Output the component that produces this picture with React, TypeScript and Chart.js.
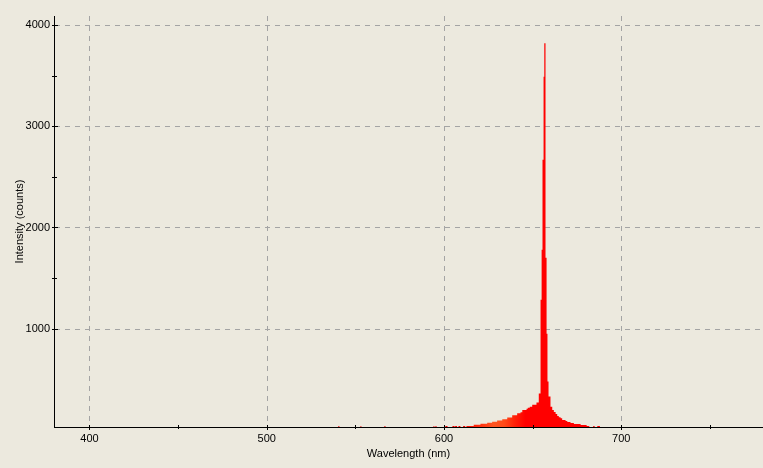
import React, { useEffect, useRef } from 'react';
import { Chart, registerables } from 'chart.js';

Chart.register(...registerables);

// Spectrum (left edge of each step, nm) and intensity (counts)
const wavelengths = [
  380,
  540.4, 541.0,
  552.9, 553.4,
  566.4, 567.0,
  594.1, 594.6,
  595.2, 595.8,
  600.8, 602.0,
  604.8, 606.0,
  606.3, 607.4,
  608.2, 609.3,
  610.8, 612.0,
  612.7, 616.8, 620.6, 624.4, 627.2, 630.0, 632.9, 635.7, 638.5, 641.3,
  643.2, 644.2, 646.6, 647.3, 648.4, 649.8, 652.2, 653.5,
  654.5, 655.1, 655.6, 656.2, 656.6, 657.3, 657.9, 658.4, 659.0,
  660.1, 661.1, 662.0, 663.0, 663.9, 664.8, 665.8, 666.7, 668.6, 669.6, 671.4, 673.3, 677.1, 680.5, 682.0,
  684.2, 685.0,
  686.5, 688.0,
  780,
];
const counts = [
  0,
  40, 0,
  40, 0,
  40, 0,
  40, 0,
  40, 0,
  40, 0,
  40, 0,
  40, 0,
  40, 0,
  40, 0,
  40, 52, 62, 70, 82, 92, 106, 122, 145, 165,
  175, 198, 210, 220, 230, 248, 270, 360,
  1286, 1780, 2670, 3490, 3820, 1700, 950, 478, 330,
  230, 198, 178, 158, 138, 125, 115, 99, 89, 79, 69, 59, 49, 40, 0,
  40, 0,
  40, 0,
  0,
];

const xMajorTicks = [400, 500, 600, 700];
const xMinorTicks = [450, 550, 650, 750];
const yMajorTicks = [1000, 2000, 3000, 4000];
const yMinorTicks = [1500, 2500, 3500];

const X_MIN = 380;
const X_MAX = 780;
const Y_MIN = 29;
const Y_MAX = 4089;

const BG = '#ECE9DE';
const FONT_FAMILY = '"Liberation Sans", Arial, sans-serif';

export default function App() {
  const ref = useRef<HTMLCanvasElement>(null);

  useEffect(() => {
    document.body.style.margin = '0';
    document.body.style.background = BG;
    const canvas = ref.current!;

    const decor = {
      id: 'decor',
      beforeDraw(chart: any) {
        const c = chart.ctx;
        c.save();
        c.fillStyle = BG;
        c.fillRect(0, 0, chart.width, chart.height);
        c.restore();
      },
      beforeDatasetsDraw(chart: any) {
        const c = chart.ctx;
        const { left, right, top, bottom } = chart.chartArea;
        const xs = chart.scales.x;
        const ys = chart.scales.y;
        c.save();
        c.strokeStyle = '#A4A4A4';
        c.lineWidth = 1;
        c.setLineDash([5, 5]);
        for (const v of xMajorTicks) {
          const x = Math.round(xs.getPixelForValue(v)) + 0.5;
          c.beginPath();
          c.moveTo(x, top);
          c.lineTo(x, bottom);
          c.stroke();
        }
        for (const v of yMajorTicks) {
          const y = Math.round(ys.getPixelForValue(v)) + 0.5;
          c.beginPath();
          c.moveTo(left + 1, y);
          c.lineTo(right, y);
          c.stroke();
        }
        c.restore();
      },
      afterDatasetsDraw(chart: any) {
        const c = chart.ctx;
        const { left, right, top, bottom } = chart.chartArea;
        const xs = chart.scales.x;
        const ys = chart.scales.y;
        c.save();
        c.fillStyle = '#000';
        // axis lines
        c.fillRect(left, top, 1, bottom - top + 1);
        c.fillRect(left, bottom, right - left, 1);
        // y ticks
        for (const v of yMajorTicks) {
          const y = Math.round(ys.getPixelForValue(v));
          c.fillRect(left - 2, y, 6, 1);
        }
        for (const v of yMinorTicks) {
          const y = Math.round(ys.getPixelForValue(v));
          c.fillRect(left - 2, y, 5, 1);
        }
        // x ticks
        for (const v of xMajorTicks) {
          const x = Math.round(xs.getPixelForValue(v));
          c.fillRect(x, bottom - 2, 1, 5);
        }
        for (const v of xMinorTicks) {
          const x = Math.round(xs.getPixelForValue(v));
          c.fillRect(x, bottom - 2, 1, 4);
        }
        c.restore();
      },
    };

    const gradientFill = (ctx: any) => {
      const chart = ctx.chart;
      const { chartArea, scales } = chart;
      if (!chartArea || !scales.x) return '#FF0000';
      const x0 = scales.x.getPixelForValue(600);
      const x1 = scales.x.getPixelForValue(660);
      const g = chart.ctx.createLinearGradient(x0, 0, x1, 0);
      g.addColorStop(0, '#F00000');
      g.addColorStop(0.2, '#F80800');
      g.addColorStop(0.333, '#FF3010');
      g.addColorStop(0.467, '#FF5520');
      g.addColorStop(0.567, '#FF4A18');
      g.addColorStop(0.667, '#FF2008');
      g.addColorStop(0.767, '#FF0000');
      g.addColorStop(1, '#FF0000');
      return g;
    };

    const chart = new Chart(canvas, {
      type: 'line',
      data: {
        datasets: [
          {
            data: wavelengths.map((w, i) => ({ x: w, y: counts[i] })),
            stepped: true,
            fill: 'origin',
            backgroundColor: gradientFill,
            borderColor: 'rgba(0,0,0,0)',
            borderWidth: 0,
            pointRadius: 0,
            pointHoverRadius: 0,
            tension: 0,
          },
        ],
      },
      options: {
        animation: false,
        responsive: false,
        devicePixelRatio: 1,
        events: [],
        layout: { padding: { top: 16, left: 0, right: 0, bottom: 0 } },
        plugins: {
          legend: { display: false },
          tooltip: { enabled: false },
        },
        scales: {
          x: {
            type: 'linear',
            min: X_MIN,
            max: X_MAX,
            grid: { display: false, drawTicks: false },
            border: { display: false },
            ticks: {
              color: '#000',
              font: { family: FONT_FAMILY, size: 11 },
              padding: 5,
              autoSkip: false,
              maxRotation: 0,
              callback: (v: any) => (xMajorTicks.includes(Number(v)) ? String(v) : ''),
            },
            afterBuildTicks: (s: any) => {
              s.ticks = [...xMajorTicks, ...xMinorTicks].sort((a, b) => a - b).map((v) => ({ value: v }));
            },
            afterFit: (s: any) => {
              s.height = 41;
            },
            title: {
              display: true,
              text: 'Wavelength (nm)',
              color: '#000',
              font: { family: FONT_FAMILY, size: 11 },
              padding: { top: 0, bottom: 7.5 },
            },
          },
          y: {
            type: 'linear',
            min: Y_MIN,
            max: Y_MAX,
            grid: { display: false, drawTicks: false },
            border: { display: false },
            ticks: {
              color: '#000',
              font: { family: FONT_FAMILY, size: 11 },
              padding: 4,
              callback: (v: any) => (yMajorTicks.includes(Number(v)) ? String(v) : ''),
            },
            afterBuildTicks: (s: any) => {
              s.ticks = [...yMajorTicks, ...yMinorTicks].sort((a, b) => a - b).map((v) => ({ value: v }));
            },
            afterFit: (s: any) => {
              s.width = 54;
            },
            title: {
              display: true,
              text: 'Intensity (counts)',
              color: '#000',
              font: { family: FONT_FAMILY, size: 11 },
              padding: { top: 13, bottom: 0 },
            },
          },
        },
      },
      plugins: [decor],
    } as any);

    return () => chart.destroy();
  }, []);

  return (
    <div style={{ width: 763, height: 468 }}>
      <canvas ref={ref} width={763} height={468} style={{ display: 'block' }} />
    </div>
  );
}
